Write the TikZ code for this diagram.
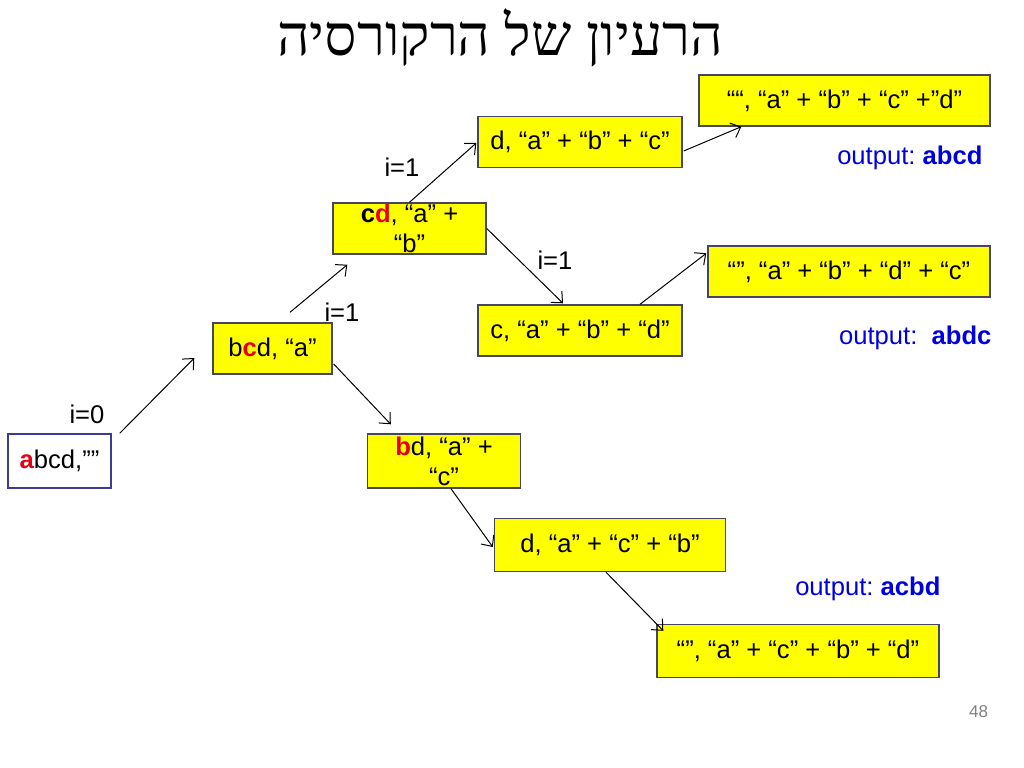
\documentclass[tikz,border=0pt]{standalone}
\usepackage{fontspec}
\setmainfont{Liberation Sans}
\newfontfamily\hebrewfont[Script=Hebrew]{Liberation Serif}
\TeXXeTstate=1
\frenchspacing
\usetikzlibrary{positioning,arrows.meta}
\newcommand{\RecPx}{0.703}
\definecolor{recYellow}{RGB}{255,255,0}
\definecolor{recEdge}{RGB}{70,70,100}
\definecolor{recRootEdge}{RGB}{60,60,150}
\definecolor{recRed}{RGB}{230,0,20}
\definecolor{recBlue}{RGB}{0,0,220}
\tikzset{
	recbox/.style={draw=recEdge, fill=recYellow, line width=1pt, inner sep=0pt, align=center,
		minimum height=\RecPx*51 pt, font=\fontsize{18}{21}\selectfont},
	reclabel/.style={inner sep=0pt, font=\fontsize{18}{21}\selectfont},
	recout/.style={inner sep=0pt, anchor=east, text=recBlue, font=\fontsize{18}{21}\selectfont},
	recarrow/.style={-{Straight Barb[length=6pt,width=11pt]}, line width=0.7pt},
}
\newcommand{\hl}[1]{\textbf{\color{recRed}#1}}
\begin{document}
\begin{tikzpicture}[x=0.703pt, y=-0.703pt, on grid]
	\useasboundingbox (0,0) rectangle (1024,768);
	\node[font=\hebrewfont\fontsize{40}{44}\selectfont, inner sep=0pt] (title) at (500,38) {\beginR הרעיון של הרקורסיה\endR};
	% recursion tree
	\node[recbox, fill=white, draw=recRootEdge, minimum width=\RecPx*103 pt, minimum height=\RecPx*54 pt] (l0) at (59.5,461) {\hl{a}bcd,””};
	\node[recbox, minimum width=\RecPx*119 pt, above right=\RecPx*112.5 pt and \RecPx*213 pt of l0] (l1) {b\hl{c}d, “a”};
	\node[recbox, minimum width=\RecPx*153 pt, above right=\RecPx*120 pt and \RecPx*137 pt of l1] (l2a) {\textbf{c}\hl{d}, “a” +\\“b”};
	\node[recbox, minimum width=\RecPx*204 pt, above right=\RecPx*86.5 pt and \RecPx*170.5 pt of l2a] (l3a) {d, “a” + “b” + “c”};
	\node[recbox, minimum width=\RecPx*291 pt, above right=\RecPx*41.5 pt and \RecPx*264.5 pt of l3a] (l4a) {““, “a” + “b” + “c” +”d”};
	\node[recbox, minimum width=\RecPx*204 pt, below right=\RecPx*102 pt and \RecPx*170.5 pt of l2a] (l3b) {c, “a” + “b” + “d”};
	\node[recbox, minimum width=\RecPx*282 pt, above right=\RecPx*59 pt and \RecPx*269 pt of l3b] (l4b) {“”, “a” + “b” + “d” + “c”};
	\node[recbox, minimum width=\RecPx*153 pt, minimum height=\RecPx*54 pt, below right=\RecPx*112.5 pt and \RecPx*171.5 pt of l1] (l2b) {\hl{b}d, “a” +\\“c”};
	\node[recbox, minimum width=\RecPx*231 pt, minimum height=\RecPx*53 pt, below right=\RecPx*84 pt and \RecPx*166 pt of l2b] (l3c) {d, “a” + “c” + “b”};
	\node[recbox, minimum width=\RecPx*282 pt, minimum height=\RecPx*53 pt, below right=\RecPx*106 pt and \RecPx*188 pt of l3c] (l4c) {“”, “a” + “c” + “b” + “d”};
	% loop indices
	\node[reclabel, above right=\RecPx*47 pt and \RecPx*27.5 pt of l0] (i0) {i=0};
	\node[reclabel, above right=\RecPx*36.5 pt and \RecPx*69.5 pt of l1] (i1) {i=1};
	\node[reclabel, above left=\RecPx*61.5 pt and \RecPx*7.5 pt of l2a] (i2) {i=1};
	\node[reclabel, below right=\RecPx*31.5 pt and \RecPx*145.5 pt of l2a] (i3) {i=1};
	% printed results
	\node[recout] (o1) at ([shift={(-8,57.5)}]l4a.east) {output: \textbf{abcd}};
	\node[recout] (o2) at ([shift={(1,66.5)}]l4b.east) {output:\ \ \textbf{abdc}};
	\node[recout] (o3) at ([shift={(1,-62)}]l4c.east) {output: \textbf{acbd}};
	\node[text=gray, font=\fontsize{12}{14}\selectfont, inner sep=0pt] (pg) at (978.5,712) {48};
	\draw[recarrow] ([shift={(8,0)}]l0.north east) -- ([shift={(-18,9.5)}]l1.west);
	\draw[recarrow] ([shift={(17.5,-10)}]l1.north) -- ([shift={(15,10)}]l2a.south west);
	\draw[recarrow] (l2a.north) -- ([shift={(-1,1)}]l3a.west);
	\draw[recarrow] (l2a.east) -- ([shift={(-17,-1)}]l3b.north);
	\draw[recarrow] ([shift={(1,9)}]l3a.east) -- ([shift={(43,0)}]l4a.south west);
	\draw[recarrow] ([shift={(60,0)}]l3b.north) -- ([shift={(-1,8)}]l4b.north west);
	\draw[recarrow] ([shift={(1,15.5)}]l1.east) -- ([shift={(24,-9)}]l2b.north west);
	\draw[recarrow] ([shift={(7,0)}]l2b.south) -- ([shift={(-1,2)}]l3c.west);
	\draw[recarrow] ([shift={(-4,0)}]l3c.south) -- ([shift={(7,7)}]l4c.north west);
\end{tikzpicture}
\end{document}
